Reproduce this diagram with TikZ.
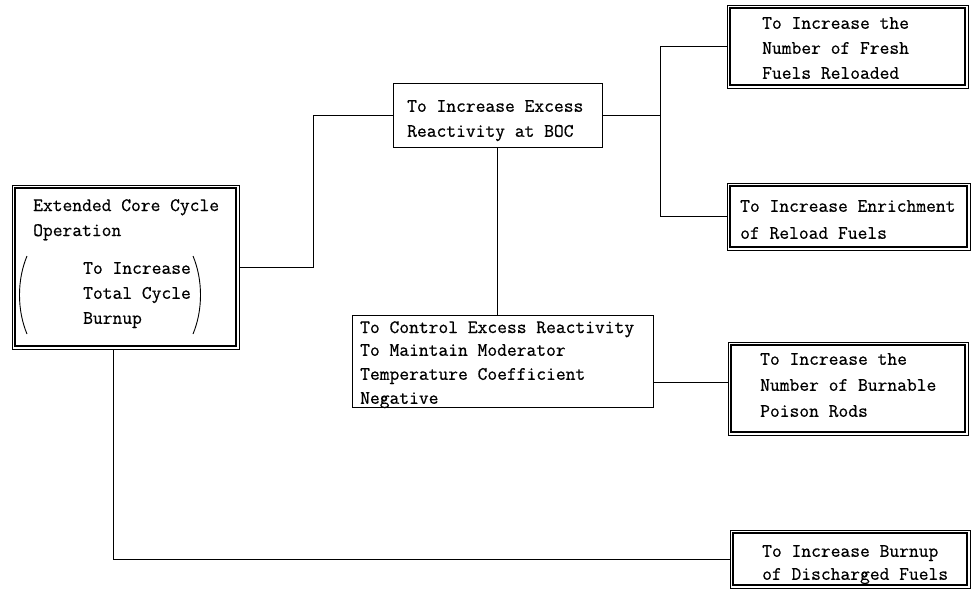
\documentclass[tikz,border=0pt]{standalone}
\usepackage{fontspec}
\newfontfamily\tw[FakeBold=0.6]{Latin Modern Mono}
\begin{document}
\begin{tikzpicture}[x=1pt,y=-1pt,
  dbox/.style={draw=black, line width=0.8pt, inner sep=0pt,
    path picture={\draw[line width=1.1pt]
      ([shift={(3pt,-3pt)}]path picture bounding box.north west) rectangle
      ([shift={(-3pt,3pt)}]path picture bounding box.south east);}},
  sbox/.style={draw=black, line width=0.9pt, inner sep=0pt},
  txt/.style={inner sep=0pt, align=left, font=\tw\fontsize{19}{25}\selectfont},
  conn/.style={draw=black, line width=0.9pt}]
\useasboundingbox (0,0) rectangle (973,594);
% boxes
\node[dbox, minimum width=227pt, minimum height=164pt] (A) at (125.5,267) {};
\node[sbox, minimum width=209pt, minimum height=64pt] (B) at (497.5,115) {};
\node[dbox, minimum width=241pt, minimum height=83pt] (C) at (847.5,46.5) {};
\node[dbox, minimum width=243pt, minimum height=67pt] (D) at (848.5,216.5) {};
\node[sbox, minimum width=301pt, minimum height=92pt] (E) at (502.5,361) {};
\node[dbox, minimum width=240pt, minimum height=93pt] (F) at (848,388.5) {};
\node[dbox, minimum width=240pt, minimum height=58pt] (G) at (850,559) {};
% texts
\node[txt, anchor=north west] (At) at (33,199) {Extended Core Cycle\\Operation};
\node[txt, anchor=north west] (Ap) at (83,262) {To Increase\\Total Cycle\\Burnup};
\draw[line width=0.9pt] (27,256) .. controls (17,280) and (17,310) .. (27,334);
\draw[line width=0.9pt] (193,256) .. controls (203,280) and (203,310) .. (193,334);
\node[txt, anchor=north west] (Bt) at (407,100) {To Increase Excess\\Reactivity at BOC};
\node[txt, anchor=north west] (Ct) at (762,17) {To Increase the\\Number of Fresh\\Fuels Reloaded};
\node[txt, anchor=north west, font=\tw\fontsize{19}{27}\selectfont] (Dt) at (740,200) {To Increase Enrichment\\of Reload Fuels};
\node[txt, anchor=north west] (Et) at (360,321) {To Control Excess Reactivity};
\node[txt, anchor=north west, font=\tw\fontsize{19}{24}\selectfont] (Et2) at (360,344) {To Maintain Moderator\\Temperature Coefficient\\Negative};
\node[txt, anchor=north west, font=\tw\fontsize{19}{26}\selectfont] (Ft) at (760,353) {To Increase the\\Number of Burnable\\Poison Rods};
\node[txt, anchor=north west, font=\tw\fontsize{19}{23}\selectfont] (Gt) at (762,545) {To Increase Burnup\\of Discharged Fuels};
% connectors
\coordinate (j1) at (313,267);
\coordinate (j2) at (660,115);
\draw[conn] (A.east) -- (j1) |- (B.west);
\draw[conn] (B.east) -- (j2);
\draw[conn] (C.west) -| (j2) |- (D.west);
\draw[conn] (B.south) -- (B.south |- E.north);
\draw[conn] (E.east |- 0,382) -- (F.west |- 0,382);
\draw[conn] (A.south -| 113,0) |- (G.west);
\end{tikzpicture}
\end{document}
